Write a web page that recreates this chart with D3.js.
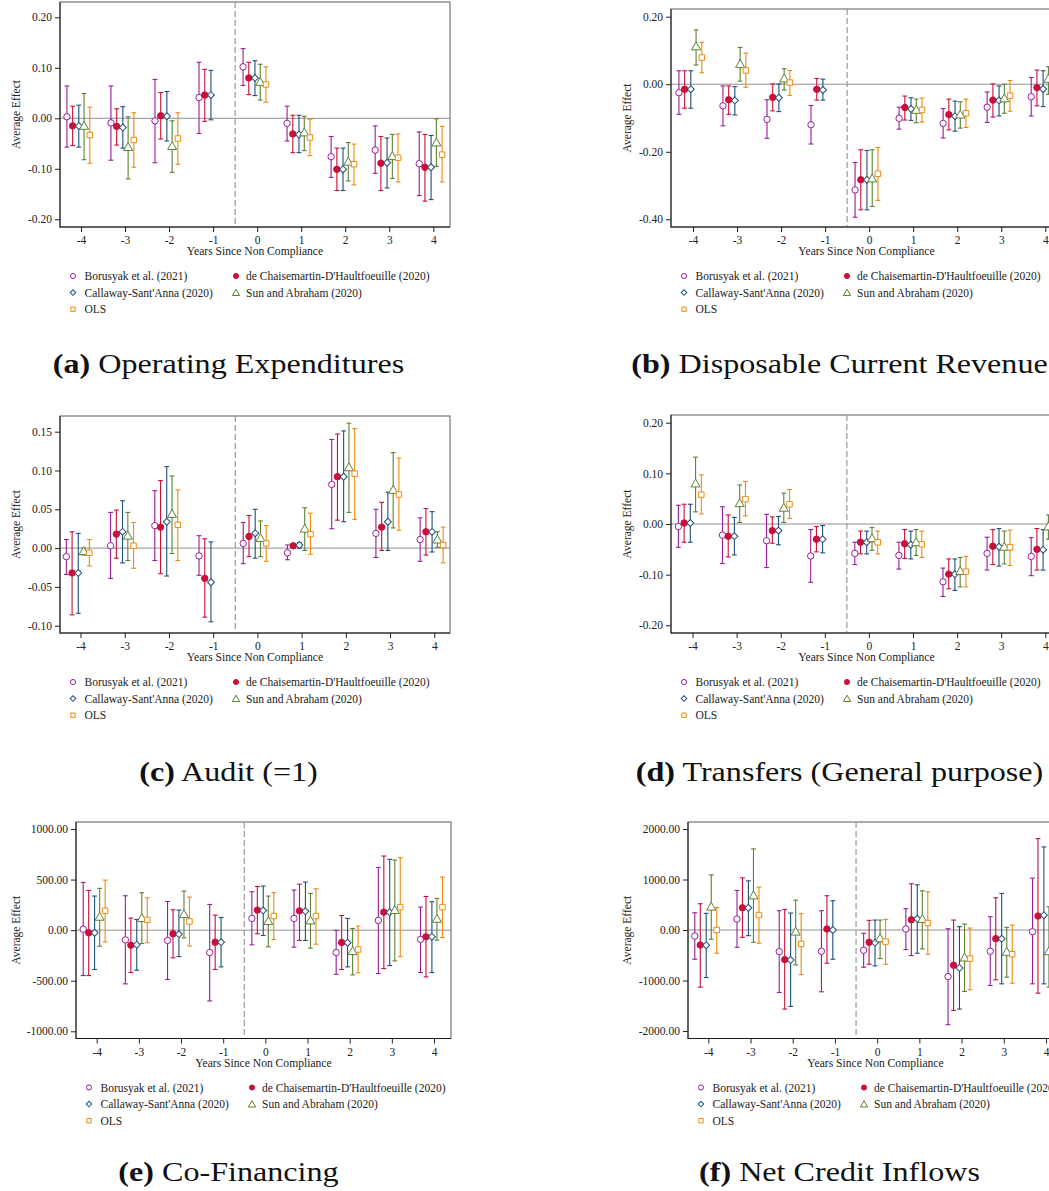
<!DOCTYPE html>
<html>
<head>
<meta charset="utf-8">
<script src="https://cdn.jsdelivr.net/npm/d3@7/dist/d3.min.js"></script>
<style>
  body { margin: 0; background: #fff; }
  svg { display: block; font-family: 'Liberation Serif', 'Times New Roman', serif; }
</style>
</head>
<body>
<script>
// event time and estimators
var years = [-4, -3, -2, -1, 0, 1, 2, 3, 4]
var methods = ['Borusyak et al. (2021)', "de Chaisemartin-D'Haultfoeuille (2020)",
  "Callaway-Sant'Anna (2020)", 'Sun and Abraham (2020)', 'OLS']
var shapes = ['circle', 'dot', 'diamond', 'triangle', 'square']
var colors = ['#9a1c9c', '#c8103a', '#1d4f7d', '#5e8131', '#ee8a10']
var offsets = [-0.32, -0.19, -0.05, 0.07, 0.2]

// (a) Operating Expenditures  rows = methods, cols = years
var opexEst = [
  [0.003, -0.009, -0.005, 0.041, 0.102, -0.010, -0.076, -0.063, -0.090],
  [-0.015, -0.016, 0.005, 0.046, 0.080, -0.031, -0.101, -0.089, -0.097],
  [-0.015, -0.018, 0.004, 0.046, 0.080, -0.032, -0.101, -0.088, -0.097],
  [-0.015, -0.057, -0.055, null, 0.072, -0.028, -0.086, -0.075, -0.048],
  [-0.033, -0.043, -0.040, null, 0.067, -0.038, -0.091, -0.078, -0.072]]
var opexLo = [
  [-0.057, -0.083, -0.088, -0.030, 0.065, -0.045, -0.117, -0.109, -0.153],
  [-0.054, -0.053, -0.041, -0.006, 0.047, -0.068, -0.143, -0.143, -0.164],
  [-0.057, -0.059, -0.045, -0.003, 0.045, -0.068, -0.143, -0.138, -0.161],
  [-0.082, -0.120, -0.107, null, 0.036, -0.064, -0.124, -0.119, -0.095],
  [-0.089, -0.097, -0.091, null, 0.032, -0.074, -0.132, -0.126, -0.126]]
var opexHi = [
  [0.064, 0.064, 0.077, 0.111, 0.138, 0.024, -0.036, -0.015, -0.027],
  [0.024, 0.019, 0.051, 0.097, 0.111, 0.006, -0.059, -0.036, -0.032],
  [0.026, 0.023, 0.053, 0.095, 0.114, 0.006, -0.059, -0.039, -0.034],
  [0.049, 0.003, -0.005, null, 0.107, 0.004, -0.048, -0.032, -0.001],
  [0.022, 0.011, 0.011, null, 0.102, -0.002, -0.051, -0.031, -0.016]]
var opexTicks = [-0.2, -0.1, 0, 0.1, 0.2]

// (b) Disposable Current Revenue
var revEst = [
  [-0.025, -0.064, -0.104, -0.120, -0.313, -0.101, -0.116, -0.068, -0.037],
  [-0.015, -0.046, -0.039, -0.015, -0.283, -0.069, -0.090, -0.047, -0.010],
  [-0.015, -0.048, -0.040, -0.017, -0.283, -0.073, -0.095, -0.048, -0.014],
  [0.112, 0.060, 0.017, null, -0.279, -0.076, -0.090, -0.042, 0.016],
  [0.079, 0.041, 0.005, null, -0.265, -0.076, -0.086, -0.034, null]]
var revLo = [
  [-0.089, -0.123, -0.160, -0.177, -0.394, -0.133, -0.159, -0.113, -0.094],
  [-0.071, -0.089, -0.079, -0.047, -0.372, -0.106, -0.135, -0.097, -0.064],
  [-0.071, -0.091, -0.081, -0.047, -0.372, -0.107, -0.139, -0.094, -0.066],
  [0.057, 0.009, -0.017, null, -0.362, -0.114, -0.130, -0.086, -0.030],
  [0.034, -0.009, -0.033, null, -0.344, -0.112, -0.128, -0.080, null]]
var revHi = [
  [0.040, -0.005, -0.046, -0.063, -0.232, -0.068, -0.072, -0.023, 0.020],
  [0.040, -0.005, 0.001, 0.017, -0.194, -0.035, -0.044, 0.001, 0.042],
  [0.040, -0.007, 0.001, 0.015, -0.196, -0.040, -0.050, -0.005, 0.040],
  [0.161, 0.109, 0.046, null, -0.194, -0.044, -0.052, 0.000, 0.052],
  [0.124, 0.092, 0.041, null, -0.187, -0.041, -0.044, 0.011, null]]
var revTicks = [-0.4, -0.2, 0, 0.2]

// (c) Audit (=1)
var auditEst = [
  [-0.011, 0.003, 0.029, -0.010, 0.006, -0.006, 0.082, 0.019, 0.011],
  [-0.032, 0.018, 0.027, -0.039, 0.015, 0.003, 0.092, 0.027, 0.021],
  [-0.032, 0.021, 0.034, -0.044, 0.019, 0.004, 0.092, 0.034, 0.021],
  [-0.004, 0.016, 0.044, null, 0.013, 0.025, 0.104, 0.075, 0.011],
  [-0.006, 0.003, 0.030, null, 0.006, 0.018, 0.096, 0.069, 0.004]]
var auditLo = [
  [-0.034, -0.039, -0.016, -0.035, -0.020, -0.015, 0.025, -0.012, -0.017],
  [-0.086, -0.013, -0.033, -0.089, -0.011, 0.001, 0.036, -0.003, -0.009],
  [-0.084, -0.019, -0.036, -0.095, -0.013, 0.000, 0.034, -0.003, -0.005],
  [-0.009, -0.016, -0.007, null, -0.011, -0.003, 0.046, 0.026, 0.001],
  [-0.023, -0.026, -0.016, null, -0.017, -0.008, 0.037, 0.023, -0.019]]
var auditHi = [
  [0.011, 0.046, 0.074, 0.016, 0.033, 0.004, 0.140, 0.050, 0.039],
  [0.021, 0.049, 0.087, 0.012, 0.042, 0.004, 0.147, 0.059, 0.051],
  [0.019, 0.061, 0.105, 0.008, 0.050, 0.007, 0.151, 0.072, 0.047],
  [0.000, 0.046, 0.093, null, 0.035, 0.052, 0.161, 0.123, 0.021],
  [0.011, 0.033, 0.075, null, 0.029, 0.045, 0.154, 0.116, 0.027]]
var auditTicks = [-0.1, -0.05, 0, 0.05, 0.1, 0.15]

// (d) Transfers (General purpose)
var trEst = [
  [-0.005, -0.022, -0.033, -0.063, -0.058, -0.062, -0.114, -0.058, -0.064],
  [0.002, -0.024, -0.013, -0.030, -0.036, -0.039, -0.099, -0.044, -0.050],
  [0.002, -0.024, -0.013, -0.030, -0.036, -0.041, -0.099, -0.045, -0.051],
  [0.080, 0.041, 0.032, null, -0.028, -0.036, -0.093, -0.045, -0.005],
  [0.058, 0.049, 0.039, null, -0.036, -0.040, -0.094, -0.046, null]]
var trLo = [
  [-0.046, -0.078, -0.086, -0.115, -0.080, -0.089, -0.143, -0.091, -0.102],
  [-0.036, -0.065, -0.038, -0.055, -0.059, -0.068, -0.128, -0.080, -0.091],
  [-0.036, -0.061, -0.041, -0.057, -0.059, -0.069, -0.131, -0.083, -0.091],
  [0.024, 0.003, 0.003, null, -0.052, -0.062, -0.124, -0.079, -0.030],
  [0.020, 0.016, 0.011, null, -0.059, -0.066, -0.124, -0.082, null]]
var trHi = [
  [0.037, 0.034, 0.019, -0.011, -0.036, -0.036, -0.087, -0.026, -0.027],
  [0.039, 0.018, 0.014, -0.005, -0.014, -0.011, -0.069, -0.011, -0.009],
  [0.039, 0.013, 0.015, -0.003, -0.014, -0.014, -0.069, -0.009, -0.011],
  [0.132, 0.077, 0.061, null, -0.007, -0.011, -0.066, -0.014, 0.018],
  [0.097, 0.084, 0.068, null, -0.014, -0.014, -0.064, -0.012, null]]
var trTicks = [-0.2, -0.1, 0, 0.1, 0.2]

// (e) Co-Financing
var cofEst = [
  [10, -96, -102, -221, 116, 116, -221, 96, -92],
  [-26, -149, -36, -119, 198, 191, -122, 178, -66],
  [-26, -145, -40, -119, 195, 188, -125, 178, -66],
  [132, 119, 158, null, 89, 96, -208, 198, 112],
  [191, 102, 86, null, 139, 139, -191, 228, 228]]
var cofLo = [
  [-449, -531, -488, -700, -145, -168, -436, -429, -419],
  [-449, -419, -274, -389, -36, -102, -389, -380, -462],
  [-389, -396, -261, -363, -53, -102, -363, -350, -419],
  [-158, -132, -76, null, -165, -178, -442, -304, -99],
  [-116, -125, -158, null, -92, -139, -422, -261, -73]]
var cofHi = [
  [472, 340, 284, 254, 380, 396, -3, 620, 228],
  [393, 119, 201, 149, 432, 455, 145, 733, 333],
  [337, 106, 198, 125, 436, 475, 116, 700, 281],
  [413, 370, 386, null, 337, 363, 17, 693, 314],
  [495, 320, 327, null, 370, 409, 40, 716, 525]]
var cofTicks = [-1000, -500, 0, 500, 1000]

// (f) Net Credit Inflows
var credEst = [
  [-118, 217, -428, -421, -401, 20, -921, -421, -33],
  [-296, 441, -586, 20, -243, 204, -697, -171, 276],
  [-303, 441, -592, 0, -250, 224, -750, -171, 290],
  [461, 684, -33, null, -164, 217, -546, -434, -421],
  [0, 296, -276, null, -230, 138, -566, -480, null]]
var credLo = [
  [-579, -342, -1237, -1224, -737, -388, -1875, -1099, -1066],
  [-1132, -145, -1566, -658, -678, -507, -1592, -987, -1250],
  [-941, -112, -1513, -579, -711, -461, -1566, -1066, -1066],
  [-184, -243, -691, null, -566, -375, -1217, -934, -1132],
  [-461, -263, -882, null, -678, -480, -1184, -1053, null]]
var credHi = [
  [342, 783, 382, 382, -66, 421, 26, 263, 1026],
  [520, 1033, 408, 678, 191, 915, 197, 638, 1810],
  [329, 974, 336, 579, 197, 895, 66, 724, 1645],
  [1092, 1606, 592, null, 197, 776, 118, 53, 461],
  [447, 849, 322, null, 211, 757, 39, 99, null]]
var credTicks = [-2000, -1000, 0, 1000, 2000]

// panel layout (frame box = left, right, top, bottom)
var panels = [
  { est: opexEst, lo: opexLo, hi: opexHi, ticks: opexTicks, tag: '(a)', title: 'Operating Expenditures',
    box: [60, 450, 2, 227], xr: [81, 433.3], yd: [-0.2, 0.2], yr: [219.3, 17.3], labX: 19.5, capX: 228.5, capY: 373 },
  { est: revEst, lo: revLo, hi: revHi, ticks: revTicks, tag: '(b)', title: 'Disposable Current Revenue',
    box: [671, 1062, 9, 227], xr: [693, 1045.3], yd: [-0.4, 0.2], yr: [219.3, 16.7], labX: 630.5, capX: 839.5, capY: 373 },
  { est: auditEst, lo: auditLo, hi: auditHi, ticks: auditTicks, tag: '(c)', title: 'Audit (=1)',
    box: [60, 450, 416, 633], xr: [80.5, 434.3], yd: [-0.1, 0.15], yr: [625.7, 431.7], labX: 19.5, capX: 228.5, capY: 781 },
  { est: trEst, lo: trLo, hi: trHi, ticks: trTicks, tag: '(d)', title: 'Transfers (General purpose)',
    box: [671, 1062, 415, 633], xr: [692.5, 1045.3], yd: [-0.2, 0.2], yr: [625.3, 422.7], labX: 630.5, capX: 839.5, capY: 781 },
  { est: cofEst, lo: cofLo, hi: cofHi, ticks: cofTicks, tag: '(e)', title: 'Co-Financing',
    box: [76, 451, 822, 1038.5], xr: [96.7, 434], yd: [-1000, 1000], yr: [1031.3, 829], labX: 19.5, capX: 228.5, capY: 1181 },
  { est: credEst, lo: credLo, hi: credHi, ticks: credTicks, tag: '(f)', title: 'Net Credit Inflows',
    box: [688, 1063, 822, 1038.5], xr: [708.3, 1046], yd: [-2000, 2000], yr: [1031, 829], labX: 630.5, capX: 839.5, capY: 1181 }
]

var fmt = function (v) { return v.toFixed(2) }

var svg = d3.select('body').append('svg')
  .attr('width', 1049)
  .attr('height', 1191)

function marker(sel, shape, color, k) {
  if (shape === 'circle' || shape === 'dot') {
    sel.append('circle')
      .attr('r', 3.2 * k)
      .attr('fill', shape === 'dot' ? color : '#fff')
      .attr('stroke', color)
      .attr('stroke-width', 1)
  } else {
    var type = shape === 'triangle' ? d3.symbolTriangle : d3.symbolSquare
    var size = shape === 'diamond' ? 24 : shape === 'triangle' ? 36 : 30
    sel.append('path')
      .attr('d', d3.symbol().type(type).size(size * k * k)())
      .attr('transform', shape === 'diamond' ? 'rotate(45)' : shape === 'triangle' ? 'translate(0,0.8)' : null)
      .attr('fill', '#fff')
      .attr('stroke', color)
      .attr('stroke-width', 1)
  }
}

panels.forEach(function (p) {
  var L = p.box[0], R = p.box[1], T = p.box[2], B = p.box[3]
  var x = d3.scaleLinear().domain([-4, 4]).range(p.xr)
  var y = d3.scaleLinear().domain(p.yd).range(p.yr)
  var g = svg.append('g')

  // plot region
  g.append('rect')
    .attr('x', L).attr('y', T)
    .attr('width', R - L).attr('height', B - T)
    .attr('fill', '#fff')
    .attr('stroke', '#5a5a5a')
    .attr('stroke-width', 1)

  g.append('line')
    .attr('x1', L).attr('x2', R)
    .attr('y1', y(0)).attr('y2', y(0))
    .attr('stroke', '#8f8f8f').attr('stroke-width', 1)

  g.append('line')
    .attr('x1', x(-0.5)).attr('x2', x(-0.5))
    .attr('y1', T).attr('y2', B)
    .attr('stroke', '#999').attr('stroke-width', 1.2)
    .attr('stroke-dasharray', '6,3')

  // axes
  var yAxis = d3.axisLeft(y).tickValues(p.ticks).tickFormat(fmt).tickSize(5).tickPadding(3).tickSizeOuter(0)
  var xAxis = d3.axisBottom(x).tickValues(years).tickFormat(function (d) { return d }).tickSize(5).tickPadding(4).tickSizeOuter(0)

  var ya = g.append('g').attr('transform', 'translate(' + L + ',0)').call(yAxis)
  var xa = g.append('g').attr('transform', 'translate(0,' + B + ')').call(xAxis)
  ;[ya, xa].forEach(function (a) {
    a.select('.domain').remove()
    a.selectAll('line').attr('stroke', '#222')
    a.selectAll('text')
      .attr('fill', '#222')
      .style('font-family', "'Liberation Serif', serif")
      .style('font-size', '11.5px')
  })

  g.append('line').attr('x1', L).attr('x2', L).attr('y1', T).attr('y2', B + 0.5).attr('stroke', '#1a1a1a')
  g.append('line').attr('x1', L).attr('x2', R).attr('y1', B).attr('y2', B).attr('stroke', '#1a1a1a')

  g.append('text')
    .attr('x', (L + R) / 2)
    .attr('y', B + 28)
    .attr('text-anchor', 'middle')
    .attr('fill', '#222')
    .style('font-size', '11.6px')
    .text('Years Since Non Compliance')

  g.append('text')
    .attr('transform', 'translate(' + p.labX + ',' + (T + B) / 2 + ') rotate(-90)')
    .attr('text-anchor', 'middle')
    .attr('fill', '#222')
    .style('font-size', '11.5px')
    .text('Average Effect')

  // estimates with confidence intervals
  methods.forEach(function (m, i) {
    var rows = years.map(function (t, j) {
      return { t: t, est: p.est[i][j], lo: p.lo[i][j], hi: p.hi[i][j] }
    }).filter(function (d) { return d.est !== null })
    var cx = function (d) { return x(d.t + offsets[i]) }

    var bars = g.append('g')
      .attr('stroke', colors[i])
      .attr('stroke-width', 1.1)
      .selectAll('g')
      .data(rows)
      .enter()
      .append('g')
    bars.append('line')
      .attr('x1', cx).attr('x2', cx)
      .attr('y1', function (d) { return y(d.lo) })
      .attr('y2', function (d) { return y(d.hi) })
    bars.append('line')
      .attr('x1', function (d) { return cx(d) - 2.4 }).attr('x2', function (d) { return cx(d) + 2.4 })
      .attr('y1', function (d) { return y(d.lo) }).attr('y2', function (d) { return y(d.lo) })
    bars.append('line')
      .attr('x1', function (d) { return cx(d) - 2.4 }).attr('x2', function (d) { return cx(d) + 2.4 })
      .attr('y1', function (d) { return y(d.hi) }).attr('y2', function (d) { return y(d.hi) })

    g.append('g')
      .selectAll('g')
      .data(rows)
      .enter()
      .append('g')
      .attr('transform', function (d) { return 'translate(' + cx(d) + ',' + y(d.est) + ')' })
      .each(function () { marker(d3.select(this), shapes[i], colors[i], 1) })
  })

  // legend
  methods.forEach(function (m, i) {
    var col = i % 2, row = Math.floor(i / 2)
    var ly = B + 49 + row * 16.6
    var item = g.append('g')
    marker(item.append('g').attr('transform', 'translate(' + (L + (col ? 176 : 13)) + ',' + ly + ')'), shapes[i], colors[i], 0.8)
    item.append('text')
      .attr('x', L + (col ? 186 : 24.5))
      .attr('y', ly + 4)
      .attr('fill', '#222')
      .style('font-size', '11.5px')
      .text(m)
  })

  // sub-caption
  var cap = g.append('text')
    .attr('transform', 'translate(' + p.capX + ',' + p.capY + ') scale(1.19,1)')
    .attr('text-anchor', 'middle')
    .attr('fill', '#111')
    .style('font-size', '27px')
  cap.append('tspan').style('font-weight', 'bold').text(p.tag)
  cap.append('tspan').text(' ' + p.title)
})
</script>
</body>
</html>
